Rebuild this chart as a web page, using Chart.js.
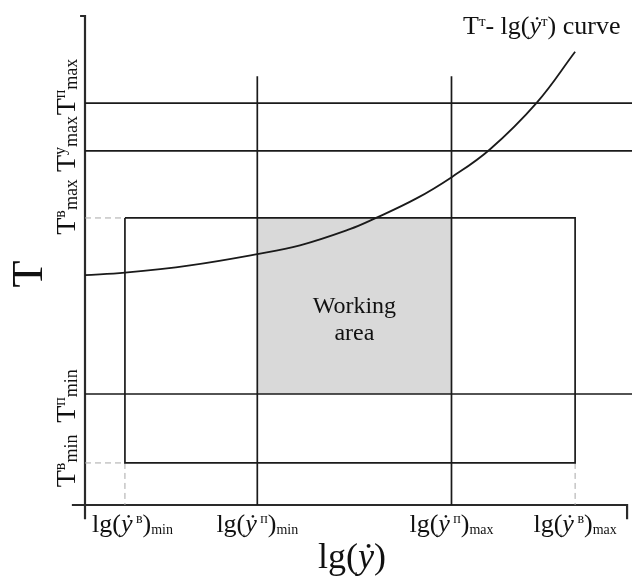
<!DOCTYPE html>
<html>
<head>
<meta charset="utf-8">
<script src="https://cdn.jsdelivr.net/npm/chart.js@4/dist/chart.umd.min.js"></script>
<style>
  html, body { margin: 0; padding: 0; background: #fff; }
</style>
</head>
<body>
<canvas id="chart" width="632" height="579"></canvas>
<script>
// positions on the log-shear-rate axis (arbitrary units 0..100)
const xTickNames = ['вmin', 'пmin', 'пmax', 'вmax'];
const xTickValues = [7.3, 31.5, 67, 89.6];

// positions on the temperature axis (arbitrary units 0..100)
const yTickNames = ['вmin', 'пmin', 'вmax', 'уmax', 'пmax'];
const yTickValues = [8.6, 22.7, 58.7, 72.4, 82.2];

// T^т - lg(ẏ^т) curve
const curveX = [0, 7.3, 19.2, 31.5, 39.3, 48.4, 52.8, 60.6, 67.1, 74, 82.6, 89.6];
const curveY = [47.0, 47.5, 49.0, 51.3, 53.1, 56.4, 58.5, 62.7, 67.1, 72.7, 82.3, 92.7];

// axis extents
const xRange = [0, 100];
const yRange = [0, 100];
const axisOvershoot = [-2.4, 99.1, -2.9, -0.9]; // x-axis start, x-axis end, tick down, tick left
const pLineTop = 87.7;

const tick = (name, v) => v[xTickNames.indexOf(name)];
const ytick = (name) => yTickValues[yTickNames.indexOf(name)];
const bMinX = tick('вmin', xTickValues), bMaxX = tick('вmax', xTickValues);
const pMinX = tick('пmin', xTickValues), pMaxX = tick('пmax', xTickValues);

const lineColor = '#1a1a1a';
const line = (pts, extra) => Object.assign({
  data: pts.map(p => ({ x: p[0], y: p[1] })),
  showLine: true,
  borderColor: lineColor,
  borderWidth: 1.7,
  pointRadius: 0,
  fill: false,
  tension: 0,
  order: 1
}, extra || {});

const datasets = [
  // working area
  line([[pMinX, ytick('вmax')], [pMaxX, ytick('вmax')], [pMaxX, ytick('пmin')], [pMinX, ytick('пmin')], [pMinX, ytick('вmax')]],
       { fill: 'shape', backgroundColor: '#d9d9d9', borderWidth: 0, order: 10 }),
  // full-width temperature lines
  line([[xRange[0], ytick('пmax')], [xRange[1], ytick('пmax')]]),
  line([[xRange[0], ytick('уmax')], [xRange[1], ytick('уmax')]]),
  line([[xRange[0], ytick('пmin')], [xRange[1], ytick('пmin')]]),
  // vertical П lines
  line([[pMinX, yRange[0]], [pMinX, pLineTop]]),
  line([[pMaxX, yRange[0]], [pMaxX, pLineTop]]),
  // В rectangle
  line([[bMinX, ytick('вmax')], [bMaxX, ytick('вmax')], [bMaxX, ytick('вmin')], [bMinX, ytick('вmin')], [bMinX, ytick('вmax')]]),
  // dashed guides
  ...[
    [[xRange[0], ytick('вmax')], [bMinX, ytick('вmax')]],
    [[xRange[0], ytick('вmin')], [bMinX, ytick('вmin')]],
    [[bMinX, ytick('вmin')], [bMinX, yRange[0]]],
    [[bMaxX, ytick('вmin')], [bMaxX, yRange[0]]]
  ].map(p => line(p, { borderColor: '#a8a8a8', borderWidth: 1, borderDash: [6, 4] })),
  // curve
  line(curveX.map((x, i) => [x, curveY[i]]), { tension: 0.4, borderWidth: 1.8 }),
  // axes
  line([[axisOvershoot[0], yRange[0]], [axisOvershoot[1], yRange[0]], [axisOvershoot[1], axisOvershoot[2]]],
       { borderColor: '#2a2a2a', borderWidth: 2.2, clip: false }),
  line([[axisOvershoot[3], yRange[1]], [xRange[0], yRange[1]], [xRange[0], axisOvershoot[2]]],
       { borderColor: '#2a2a2a', borderWidth: 2.2, clip: false })
];

const serif = '"Liberation Serif", "DejaVu Serif", serif';

function drawRich(ctx, parts, x, y, align) {
  const widths = parts.map(p => {
    ctx.font = (p[3] ? 'italic ' : '') + p[1] + 'px ' + serif;
    return ctx.measureText(p[0]).width;
  });
  const total = widths.reduce((a, b) => a + b, 0);
  let cx = align === 'center' ? x - total / 2 : align === 'right' ? x - total : x;
  parts.forEach((p, i) => {
    ctx.font = (p[3] ? 'italic ' : '') + p[1] + 'px ' + serif;
    ctx.fillText(p[0], cx, y + p[2]);
    cx += widths[i];
  });
}

const xLabel = (sup, sub) => [['lg(', 26, 0], ['ẏ', 26, 0, true], [' ' + sup, 14, -9], [')', 26, 0], [sub, 14, 2]];
const yLabel = (sup, sub) => [['T', 28, 0], [sup, 16, -10], [sub, 18, 2]];
const yNudge = [-2, 2, -11, -7, -16];

const labelPlugin = {
  id: 'labels',
  afterDraw(chart) {
    const { ctx, scales: { x, y }, chartArea } = chart;
    ctx.save();
    ctx.fillStyle = '#111';
    ctx.textBaseline = 'alphabetic';

    // x tick labels
    xTickNames.forEach((n, i) => {
      const px = x.getPixelForValue(xTickValues[i]);
      const parts = xLabel(n.charAt(0), n.slice(1));
      if (i === 0) drawRich(ctx, parts, chartArea.left + 7, 532, 'left');
      else drawRich(ctx, parts, px, 532, 'center');
    });

    // y tick labels (rotated)
    yTickNames.forEach((n, i) => {
      const py = y.getPixelForValue(yTickValues[i]) + yNudge[i];
      ctx.save();
      ctx.translate(75, py);
      ctx.rotate(-Math.PI / 2);
      drawRich(ctx, yLabel(n.charAt(0), n.slice(1)), 0, 0, 'center');
      ctx.restore();
    });

    // axis titles
    drawRich(ctx, [['lg(', 36, 0], ['ẏ', 36, 0, true], [')', 36, 0]], 352, 568, 'center');
    ctx.save();
    ctx.translate(42, 274);
    ctx.rotate(-Math.PI / 2);
    drawRich(ctx, [['T', 44, 0]], 0, 0, 'center');
    ctx.restore();

    // curve label
    drawRich(ctx, [['T', 26, 0], ['т', 15, -8], ['- lg(', 26, 0], ['ẏ', 26, 0, true], ['т', 15, -8], [') curve', 26, 0]], 463, 34, 'left');

    // working area label
    const cx = (x.getPixelForValue(pMinX) + x.getPixelForValue(pMaxX)) / 2;
    drawRich(ctx, [['Working', 24, 0]], cx, 313, 'center');
    drawRich(ctx, [['area', 24, 0]], cx, 340, 'center');
    ctx.restore();
  }
};

new Chart(document.getElementById('chart').getContext('2d'), {
  type: 'scatter',
  data: { datasets },
  options: {
    responsive: false,
    animation: false,
    layout: { padding: { top: 16, right: 0, bottom: 0, left: 0 } },
    plugins: { legend: { display: false }, tooltip: { enabled: false } },
    scales: {
      x: {
        min: xRange[0], max: xRange[1],
        grid: { display: false }, border: { display: false }, ticks: { display: false },
        afterFit: (s) => { s.height = 74; }
      },
      y: {
        min: yRange[0], max: yRange[1],
        grid: { display: false }, border: { display: false }, ticks: { display: false },
        afterFit: (s) => { s.width = 85; }
      }
    }
  },
  plugins: [labelPlugin]
});
</script>
</body>
</html>
